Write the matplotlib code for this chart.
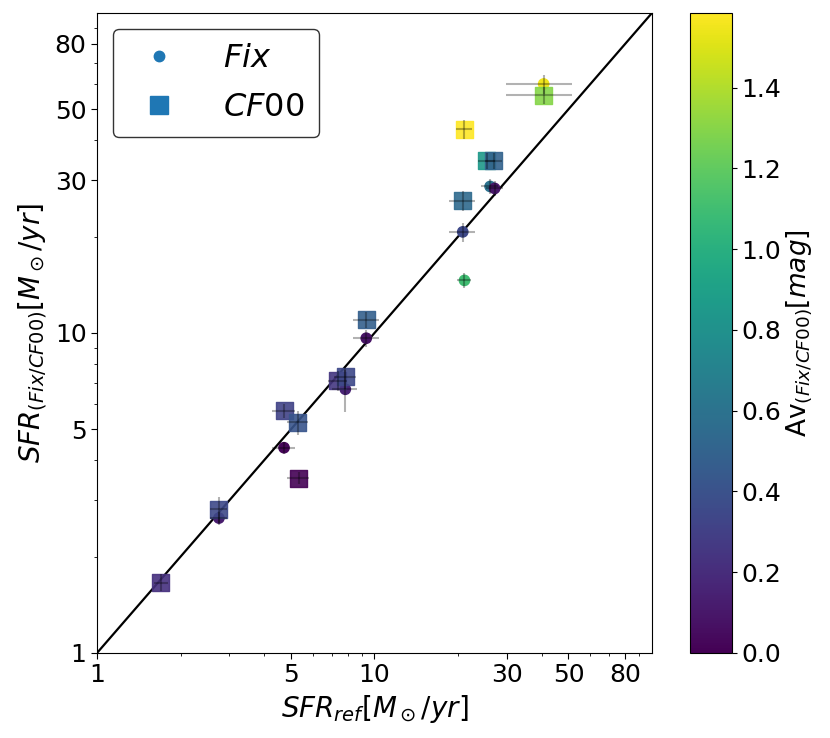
import matplotlib

matplotlib.use("Agg")
import matplotlib.pyplot as plt
import numpy as np
from matplotlib.lines import Line2D
from matplotlib.ticker import FixedLocator, FixedFormatter, LogLocator, NullFormatter

# Fix model (circles)
fix_sfr_ref = [40.7, 26.1, 27.1, 20.8, 21.1, 9.34, 7.85, 4.72, 2.75]
fix_sfr = [60.0, 28.7, 28.3, 20.7, 14.6, 9.63, 6.67, 4.38, 2.64]
fix_xerr = [10.8, 1.8, 1.9, 2.3, 1.2, 1.0, 0.8, 0.45, 0.2]
fix_yerr = [4.0, 1.5, 1.5, 1.4, 0.8, 0.6, 1.0, 0.2, 0.12]
fix_av = [1.55, 0.6, 0.1, 0.35, 1.1, 0.08, 0.15, 0.03, 0.12]

# CF00 model (squares)
cf_sfr_ref = [40.7, 21.1, 25.4, 26.9, 20.8, 9.34, 7.38, 7.85, 4.72, 5.30, 5.33, 2.75, 1.70]
cf_sfr = [55.4, 43.3, 34.5, 34.5, 25.9, 11.0, 7.08, 7.30, 5.71, 5.26, 3.52, 2.81, 1.66]
cf_xerr = [10.8, 1.4, 1.8, 1.9, 2.3, 1.0, 0.6, 0.7, 0.45, 0.45, 0.5, 0.2, 0.1]
cf_yerr = [3.5, 3.0, 2.0, 2.0, 1.8, 0.6, 0.5, 0.6, 0.3, 0.45, 0.15, 0.26, 0.1]
cf_av = [1.3, 1.58, 0.85, 0.5, 0.55, 0.48, 0.25, 0.35, 0.32, 0.42, 0.0, 0.35, 0.22]

tick_vals = [1, 5, 10, 30, 50, 80]
tick_labels = ["1", "5", "10", "30", "50", "80"]
av_min, av_max = 0.0, 1.585

fig = plt.figure(figsize=(8.3, 7.38), dpi=100)
ax = fig.add_axes([0.1169, 0.1152, 0.6686, 0.8672])
cax = fig.add_axes([0.8313, 0.1152, 0.0506, 0.8672])

ax.plot([1, 100], [1, 100], color="black", linewidth=1.6, zorder=1)

ax.scatter(fix_sfr_ref, fix_sfr, c=fix_av, cmap="viridis", vmin=av_min, vmax=av_max,
           marker="o", s=55, zorder=2)
sc = ax.scatter(cf_sfr_ref, cf_sfr, c=cf_av, cmap="viridis", vmin=av_min, vmax=av_max,
                marker="s", s=150, alpha=0.9, zorder=3)

ax.errorbar(fix_sfr_ref, fix_sfr, xerr=fix_xerr, yerr=fix_yerr, fmt="none",
            ecolor="black", alpha=0.3, elinewidth=1.5, zorder=4)
ax.errorbar(cf_sfr_ref, cf_sfr, xerr=cf_xerr, yerr=cf_yerr, fmt="none",
            ecolor="black", alpha=0.3, elinewidth=1.5, zorder=4)

ax.set_xscale("log")
ax.set_yscale("log")
ax.set_xlim(1, 100)
ax.set_ylim(1, 100)
for axis in (ax.xaxis, ax.yaxis):
    axis.set_major_locator(FixedLocator(tick_vals))
    axis.set_major_formatter(FixedFormatter(tick_labels))
    axis.set_minor_locator(LogLocator(base=10, subs=np.arange(2, 10)))
    axis.set_minor_formatter(NullFormatter())
ax.tick_params(axis="both", which="major", labelsize=18, length=4)
ax.tick_params(axis="both", which="minor", length=2)

ax.set_xlabel(r"$SFR_{ref}[M_\odot/yr]$", fontsize=20)
ax.set_ylabel(r"$SFR_{(Fix/CF00)}[M_\odot/yr]$", fontsize=20)

handles = [
    Line2D([], [], linestyle="none", marker="o", markersize=7.5, color="#1f77b4"),
    Line2D([], [], linestyle="none", marker="s", markersize=12.5, color="#1f77b4"),
]
leg = ax.legend(handles, ["$Fix$", "$CF00$"], loc="upper left", fontsize=23,
                borderpad=0.45, handletextpad=1.0, handlelength=2.0,
                borderaxespad=0.5, labelspacing=0.55)
leg.get_frame().set_edgecolor("#333333")
leg.get_frame().set_alpha(1)

cb = fig.colorbar(sc, cax=cax)
cb.solids.set_alpha(1)
cb.set_ticks([0.0, 0.2, 0.4, 0.6, 0.8, 1.0, 1.2, 1.4])
cb.ax.tick_params(labelsize=18)
cb.set_label(r"Av$_{(Fix/CF00)}$$[mag]$", fontsize=19, labelpad=2)

fig.savefig("out.png", dpi=100, facecolor="white")
